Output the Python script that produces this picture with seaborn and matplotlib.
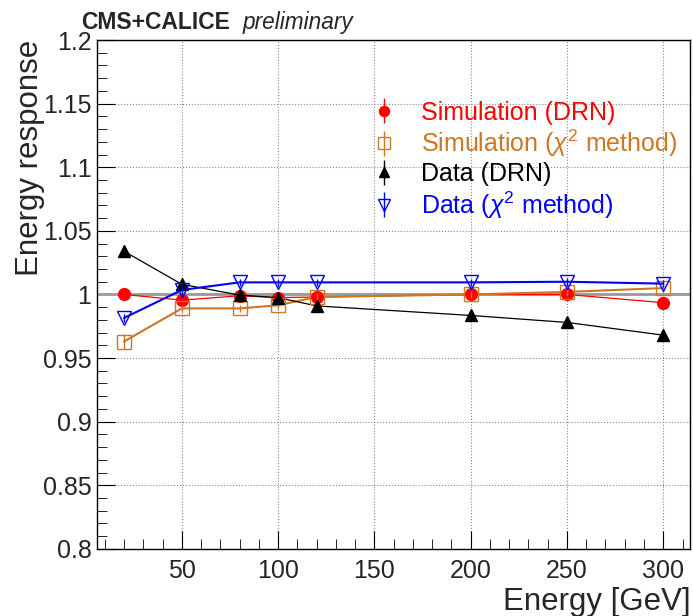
import numpy as np
import pandas as pd
import seaborn as sns
import matplotlib.pyplot as plt
from matplotlib.ticker import MultipleLocator, FuncFormatter

energy = [20, 50, 80, 100, 120, 200, 250, 300]
sim_drn = [1.000, 0.9955, 0.999, 0.9975, 0.998, 1.000, 1.000, 0.9935]
sim_chi2 = [0.963, 0.989, 0.989, 0.9915, 0.998, 1.000, 1.002, 1.005]
data_drn = [1.034, 1.008, 0.9995, 0.9975, 0.991, 0.9835, 0.978, 0.968]
data_chi2 = [0.9815, 1.0035, 1.0095, 1.0095, 1.0095, 1.0095, 1.010, 1.0085]
sim_drn_err = [0.002] * 8
sim_chi2_err = [0.006, 0.003, 0.003, 0.003, 0.003, 0.003, 0.003, 0.003]
data_drn_err = [0.003] * 8
data_chi2_err = [0.003] * 8

labels = ['Simulation (DRN)', r'Simulation ($\chi^{2}$ method)',
          'Data (DRN)', r'Data ($\chi^{2}$ method)']
colors = ['#ff0000', '#cc7722', '#000000', '#0000ff']

sns.set_style('ticks')
plt.rcParams['font.family'] = ['Liberation Sans', 'DejaVu Sans']
plt.rcParams['mathtext.fontset'] = 'custom'
plt.rcParams['mathtext.rm'] = 'Liberation Sans'
plt.rcParams['mathtext.it'] = 'Liberation Sans:italic'

fig = plt.figure(figsize=(6.93, 6.16), dpi=100)
ax = fig.add_axes([0.140, 0.109, 0.856, 0.826])

ax.axhline(1.0, color='#999999', lw=2.0, zorder=1)

series = [
    (sim_drn, sim_drn_err, dict(marker='o', ms=8.5, mfc=colors[0], mec=colors[0]), 0.9),
    (sim_chi2, sim_chi2_err, dict(marker='s', ms=10, mfc='none', mec=colors[1], mew=1.0), 1.5),
    (data_drn, data_drn_err, dict(marker='^', ms=9, mfc=colors[2], mec=colors[2]), 0.9),
    (data_chi2, data_chi2_err, dict(marker='v', ms=10, mfc='none', mec=colors[3], mew=1.0), 1.5),
]

handles = []
for i, (vals, errs, mk, lw) in enumerate(series):
    df = pd.DataFrame({'E': energy, 'R': vals})
    sns.lineplot(data=df, x='E', y='R', color=colors[i], lw=lw,
                 legend=False, ax=ax, zorder=2 + i, sort=False)
    ax.errorbar(energy, vals, yerr=errs, fmt='none', ecolor=colors[i],
                elinewidth=1.0, capsize=0, zorder=3 + i)
    ax.plot(energy, vals, ls='none', zorder=4 + i, **mk)
    leg_mk = dict(mk)
    leg_mk['ms'] = mk['ms'] * 0.85
    lh = ax.errorbar([], [], yerr=[], ls='none', ecolor=colors[i],
                     elinewidth=1.0, capsize=4, **leg_mk)
    handles.append(lh)

ax.set_xlim(6, 314)
ax.set_ylim(0.8, 1.2)
ax.xaxis.set_major_locator(MultipleLocator(50))
ax.xaxis.set_minor_locator(MultipleLocator(10))
ax.yaxis.set_major_locator(MultipleLocator(0.05))
ax.yaxis.set_minor_locator(MultipleLocator(0.01))
ax.yaxis.set_major_formatter(FuncFormatter(lambda v, p: '%g' % round(v, 3)))
ax.tick_params(which='both', direction='in', top=False, right=False,
               labelsize=18, color='black')
ax.tick_params(axis='x', which='major', length=13, pad=7)
ax.tick_params(axis='x', which='minor', length=7)
ax.tick_params(axis='y', which='major', length=13, pad=4)
ax.tick_params(axis='y', which='minor', length=7)
ax.grid(True, which='major', ls=':', color='#888888', lw=0.8)
for s in ax.spines.values():
    s.set_color('black')
    s.set_linewidth(1.0)

ax.set_xlabel('Energy [GeV]', fontsize=22.5, loc='right', labelpad=3)
ax.set_ylabel('Energy response', fontsize=22.5, loc='top', labelpad=-1.5)

leg = ax.legend(handles, labels, loc='upper left', bbox_to_anchor=(0.42, 0.925),
                frameon=False, fontsize=18, handletextpad=0.9,
                labelspacing=0.12, handlelength=1.2)
for t, c in zip(leg.get_texts(), colors):
    t.set_color(c)

fig.text(0.117, 0.963, 'CMS+CALICE', fontsize=16.5, fontweight='bold', va='center')
fig.text(0.350, 0.963, 'preliminary', fontsize=16.3, style='italic', va='center')

fig.savefig('out.png', dpi=100)
